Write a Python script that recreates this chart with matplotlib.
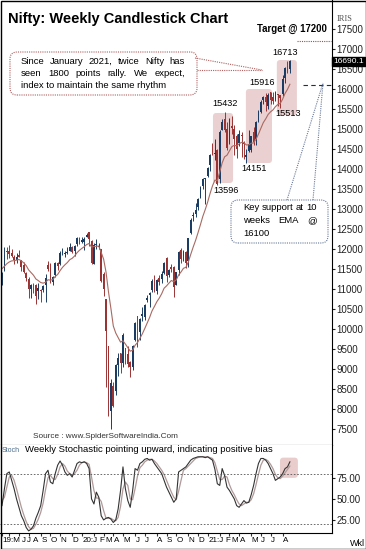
import numpy as np
import pandas as pd
import matplotlib
matplotlib.use("Agg")
import matplotlib.pyplot as plt
from matplotlib.patches import FancyBboxPatch
from matplotlib.lines import Line2D
from matplotlib.font_manager import FontProperties

# weekly Nifty candles, week ending 17 May 2019 .. 27 Aug 2021
weeks = pd.date_range("2019-05-17", periods=120, freq="W-FRI")

opens = [11280, 11470, 11925, 11953, 11905, 11810, 11725, 11839, 11713, 11588,
         11392, 11247, 11000, 11090, 11095, 10957, 10960, 10964, 11110, 11591,
         11517, 11170, 11338, 11657, 11628, 11900, 11870, 11900, 11950, 12049,
         11939, 12132, 12278, 12168, 12171, 12297, 12430, 12197, 11628, 12102,
         12046, 12012, 11387, 10742, 9587, 7945, 8585, 8446, 9103, 9390,
         9152, 9533, 9383, 9183, 9040, 9726, 10326, 9919, 10318, 10311,
         10723, 10851, 10983, 11225, 10953, 11270, 11248, 11412, 11777, 11355,
         11539, 11555, 11103, 11487, 11973, 11834, 11937, 11697, 12399, 12834,
         12880, 13062, 13264, 13587, 13741, 13815, 14104, 14474, 14371, 14486,
         13759, 14987, 15256, 15010, 14703, 15064, 14996, 14818, 14638, 14837,
         14644, 14306, 14449, 14482, 14928, 14756, 15211, 15437, 15725, 15791,
         15587, 15915, 15793, 15755, 15877, 15839, 15874, 16281, 16565, 16497]
highs = [11430, 12041, 12039, 12103, 12000, 11842, 11911, 11981, 11713, 11670,
         11420, 11305, 11130, 11145, 11116, 11142, 10995, 11106, 11382, 11695,
         11648, 11330, 11670, 11665, 11945, 12034, 11950, 12038, 12159, 12081,
         12098, 12294, 12288, 12311, 12311, 12389, 12430, 12217, 12160, 12246,
         12159, 12012, 11433, 10751, 9587, 8749, 8678, 9128, 9390, 9390,
         9890, 9533, 9584, 9200, 9598, 10177, 10328, 10272, 10553, 10632,
         10847, 10934, 11239, 11341, 11256, 11362, 11460, 11686, 11794, 11493,
         11618, 11585, 11428, 11939, 12025, 11975, 11951, 12280, 12770, 12935,
         13145, 13281, 13579, 13773, 13777, 14050, 14367, 14653, 14753, 14491,
         14969, 15257, 15432, 15176, 15274, 15336, 15093, 14878, 14984, 14918,
         14697, 14491, 14984, 14824, 15044, 15189, 15469, 15733, 15835, 15901,
         15903, 15916, 15915, 15952, 15880, 15862, 16349, 16543, 16701, 16713]
lows = [11108, 11450, 11750, 11769, 11794, 11625, 11651, 11799, 11461, 11400,
        11210, 10782, 10782, 10901, 10637, 10756, 10670, 10921, 10670, 11460,
        11158, 11090, 11300, 11480, 11600, 11850, 11802, 11865, 11950, 11888,
        11832, 12075, 12120, 12150, 11975, 12290, 12087, 11633, 11614, 11990,
        12003, 11175, 10827, 8555, 7832, 7511, 8055, 8360, 8820, 8909,
        9044, 9117, 9043, 8807, 8968, 9706, 9544, 9729, 10194, 10224,
        10676, 10562, 10936, 10926, 10882, 11111, 11144, 11365, 11185, 11294,
        11435, 10790, 11093, 11347, 11661, 11711, 11535, 11558, 12366, 12691,
        12790, 12963, 13264, 13491, 13131, 13812, 13954, 14357, 14222, 13596,
        13662, 14977, 14936, 14468, 14635, 14864, 14350, 14265, 14568, 14311,
        14248, 14151, 14416, 14417, 14592, 14592, 15170, 15400, 15634, 15450,
        15505, 15635, 15632, 15708, 15578, 15513, 15834, 16162, 16396, 16396]
closes = [11407, 11844, 11923, 11871, 11823, 11724, 11789, 11811, 11552, 11419,
          11284, 10997, 11110, 11048, 10829, 11023, 10946, 11076, 11274, 11512,
          11175, 11305, 11662, 11583, 11890, 11908, 11895, 11914, 12056, 11922,
          12087, 12272, 12246, 12227, 12257, 12352, 12248, 11662, 12098, 12113,
          12080, 11202, 10989, 9955, 8745, 8660, 8084, 9112, 9267, 9154,
          9860, 9252, 9137, 9039, 9580, 10142, 9972, 10244, 10383, 10607,
          10768, 10902, 11194, 11073, 11214, 11178, 11372, 11647, 11333, 11464,
          11505, 11050, 11417, 11914, 11762, 11930, 11642, 12264, 12720, 12860,
          12969, 13258, 13514, 13761, 13749, 14018, 14347, 14434, 14372, 13635,
          14924, 15163, 14982, 14529, 14938, 15031, 14744, 14507, 14867, 14835,
          14617, 14341, 14631, 14823, 14678, 15175, 15436, 15670, 15799, 15683,
          15860, 15722, 15690, 15924, 15856, 15763, 16238, 16529, 16451, 16690.1]
ema10 = [11508, 11569, 11633, 11676, 11703, 11707, 11722, 11738, 11704, 11652,
         11585, 11478, 11411, 11345, 11251, 11210, 11162, 11146, 11169, 11231,
         11221, 11236, 11314, 11363, 11459, 11541, 11605, 11661, 11733, 11767,
         11825, 11906, 11968, 12015, 12059, 12112, 12137, 12051, 12060, 12070,
         12072, 11914, 11746, 11420, 10933, 10519, 10076, 9901, 9786, 9671,
         9705, 9623, 9535, 9445, 9470, 9592, 9661, 9767, 9879, 10011,
         10149, 10286, 10451, 10564, 10682, 10772, 10881, 11020, 11077, 11147,
         11212, 11183, 11226, 11351, 11426, 11518, 11541, 11673, 11864, 12045,
         12213, 12403, 12605, 12815, 12985, 13173, 13387, 13578, 13723, 13707,
         13928, 14153, 14304, 14345, 14453, 14558, 14592, 14577, 14630, 14667,
         14658, 14600, 14606, 14645, 14651, 14746, 14872, 15017, 15159, 15254,
         15364, 15429, 15477, 15558, 15612, 15639, 15748, 15890, 15992, 16119]

stoch_k = [42, 62, 80, 82, 72, 62, 50, 40, 30, 24, 16, 12, 14, 18, 27, 34, 42, 60, 80, 84,
           70, 68, 80, 90, 95, 90, 82, 78, 80, 76, 84, 92, 94, 93, 94, 92, 86, 50, 44, 58,
           52, 30, 25, 27, 28, 26, 22, 25, 38, 60, 88, 62, 48, 40, 60, 86, 84, 92, 94, 97,
           98, 96, 97, 92, 88, 84, 80, 72, 64, 58, 52, 46, 50, 82, 84, 86, 88, 92, 96, 98,
           99, 100, 100, 100, 99, 100, 98, 96, 85, 68, 66, 86, 78, 64, 60, 55, 50, 42, 40, 44,
           48, 45, 46, 55, 66, 80, 92, 98, 98, 96, 92, 86, 80, 72, 74, 76, 80, 86, 88, 94]
stoch_d = [48, 52, 64, 76, 78, 72, 62, 51, 40, 31, 23, 17, 14, 15, 20, 26, 34, 45, 61, 75,
           78, 74, 73, 79, 88, 92, 89, 83, 80, 78, 80, 84, 90, 93, 94, 93, 91, 76, 60, 51,
           51, 47, 36, 27, 27, 27, 25, 24, 28, 41, 62, 70, 66, 50, 49, 62, 77, 87, 90, 94,
           96, 97, 97, 95, 92, 88, 84, 79, 72, 65, 58, 52, 49, 59, 72, 84, 86, 89, 92, 95,
           98, 99, 100, 100, 100, 100, 99, 98, 93, 83, 73, 73, 77, 76, 67, 60, 55, 49, 44, 42,
           44, 46, 46, 49, 56, 67, 79, 90, 96, 97, 95, 91, 86, 79, 75, 74, 77, 81, 85, 89]

marked_highs = [16713, 15916, 15432]
marked_lows = [15513, 14151, 13596]
target = 17200
support = 16100
month_letters = ["J", "F", "M", "A", "M", "J", "J", "A", "S", "O", "N", "D"]

SANS = "Liberation Sans"
UP = "#1c3d63"
DOWN = "#9c3333"

W, H = 366, 549
fig = plt.figure(figsize=(W / 100, H / 100), dpi=100)
PX = fig.dpi_scale_trans
renderer = fig.canvas.get_renderer()


def px(x, y):
    return x / 100, (H - y) / 100


def text_w(s, size, weight="normal"):
    fp = FontProperties(family=SANS, size=size, weight=weight)
    return renderer.get_text_width_height_descent(s, fp, ismath=False)[0]


ax = fig.add_axes([0, (H - 445) / H, 332 / W, 445 / H])
ax2 = fig.add_axes([0, (H - 533) / H, 332 / W, 88 / H], sharex=ax)

idx = np.arange(len(closes))
o = np.array(opens, float)
c = np.array(closes, float)
up = c >= o
cols = np.where(up, UP, DOWN)

ax.vlines(idx, lows, highs, colors=cols, lw=0.7)
body_lo = np.minimum(o, c)
body_h = np.maximum(np.abs(c - o), 25)
ax.bar(idx, body_h, bottom=body_lo, width=0.72, color=cols, linewidth=0)
ax.plot(idx, ema10, color="#a86a62", lw=0.8)

ax.set_xlim(-0.83, 136.4)
ax.set_ylim(7100, 18225)

# pixel -> data aspect for rounded boxes
x_per_px = (136.4 + 0.83) / 332
y_per_px = (18225 - 7100) / 445
asp = y_per_px / x_per_px

for x0, x1, y0, y1 in [(87.2, 95.5, 13650, 15400), (100.8, 111.6, 14150, 16000), (113.6, 121.9, 15350, 16725)]:
    ax.add_patch(FancyBboxPatch((x0, y0), x1 - x0, y1 - y0,
                                boxstyle="round,pad=0,rounding_size=1.4", mutation_aspect=asp,
                                fc="#d7a3a3", ec="none", alpha=0.5, zorder=0))

# labels for swing highs / lows
offsets = {16713: (-5, 8), 15916: (-8, 10), 15432: (0, 8), 15513: (8, -5), 14151: (8, -6), 13596: (9, -5)}
for v in marked_highs:
    i = highs.index(v)
    ax.annotate(str(v), (i, v), xytext=offsets[v], textcoords="offset pixels",
                ha="center", va="center", fontsize=6.6, family=SANS)
for v in marked_lows:
    i = lows.index(v)
    ax.annotate(str(v), (i, v), xytext=offsets[v], textcoords="offset pixels",
                ha="center", va="center", fontsize=6.6, family=SANS)

ax.plot([122, 135.8], [target, target], color="#b04848", lw=0.8, ls=(0, (1, 1)))
ax.plot([124.4, 136.4], [support, support], color="#1a3050", lw=0.8, ls=(0, (4, 3)))

# right axis
ax.yaxis.tick_right()
ax.set_yticks(np.arange(7500, 17501, 500))
ax.tick_params(axis="y", labelsize=7, length=2, pad=1, colors="#222222")
for t in ax.get_yticklabels():
    t.set_family(SANS)
ax.tick_params(axis="x", bottom=False, labelbottom=False)
for s in ["left", "top"]:
    ax.spines[s].set_visible(False)
ax.spines["right"].set_linewidth(0.8)
ax.spines["bottom"].set_linewidth(0.8)

ax.text(1.004, closes[-1], f"{closes[-1]:.1f}", transform=ax.get_yaxis_transform(),
        ha="left", va="center", color="white", fontsize=6.1, family=SANS, zorder=5,
        bbox=dict(boxstyle="square,pad=0.1", fc="black", ec="black"))

# stochastic panel
ax2.plot(idx, stoch_d, color="#b09a9a", lw=0.9)
ax2.plot(idx, stoch_k, color="#333333", lw=0.8)
ax2.axhline(80, color="#555555", lw=0.6, ls=(0, (2, 2)))
ax2.axhline(20, color="#555555", lw=0.6, ls=(0, (2, 2)))
ax2.add_patch(FancyBboxPatch((114.9, 75), 7.4, 24, boxstyle="round,pad=0,rounding_size=1.4",
                             mutation_aspect=((114 - 9.5) / 88) / x_per_px,
                             fc="#d7a3a3", ec="none", alpha=0.55, zorder=0))
ax2.set_ylim(9.5, 114)
ax2.yaxis.tick_right()
ax2.set_yticks([25, 50, 75])
ax2.set_yticklabels(["25.00", "50.00", "75.00"])
ax2.tick_params(axis="y", labelsize=7, length=2, pad=1, colors="#222222")
for t in ax2.get_yticklabels():
    t.set_family(SANS)
for s in ["left", "top"]:
    ax2.spines[s].set_visible(False)
ax2.spines["right"].set_linewidth(0.8)
ax2.spines["bottom"].set_linewidth(0.8)

# month labels: ticks at month starts, labels pushed right when they collide
tick_pos, tick_lab = [], []
prev = None
for i, d in enumerate(weeks):
    if d.month != prev:
        lab = month_letters[d.month - 1]
        if i == 0 or d.month == 1:
            lab = f"{d.year % 100}:{lab}"
        tick_pos.append(i)
        tick_lab.append(lab)
        prev = d.month
ax2.set_xticks(tick_pos)
ax2.tick_params(axis="x", length=2, labelbottom=False, color="#333333")
x_end = -10
for i, lab in zip(tick_pos, tick_lab):
    xd = ax2.transData.transform((i, 0))[0]
    xs = max(xd + 0.5, x_end + 1.5)
    fig.text(*px(xs, 540), lab, transform=PX, ha="left", va="center", fontsize=5.8, family=SANS)
    x_end = xs + text_w(lab, 5.8)

# texts
fig.text(*px(8, 19), "Nifty: Weekly Candlestick Chart", transform=PX, ha="left", va="center",
         fontsize=10.5, fontweight="bold", family=SANS)
fig.text(*px(337, 19), "IRIS", transform=PX, ha="left", va="center", fontsize=6,
         family="Liberation Serif", color="#555555")
fig.text(*px(327, 29), f"Target @ {target}", transform=PX, ha="right", va="center",
         fontsize=6.9, fontweight="bold", family=SANS)
fig.text(*px(33, 437), "Source : www.SpiderSoftwareIndia.Com", transform=PX, ha="left", va="center",
         fontsize=5.9, family=SANS, color="#333333")
fig.text(*px(2, 451), "Stoch", transform=PX, ha="left", va="center", fontsize=5,
         family=SANS, color="#4a6a8a")
fig.text(*px(25, 450), "Weekly Stochastic pointing upward, indicating positive bias", transform=PX,
         ha="left", va="center", fontsize=6.8, family=SANS)
fig.text(*px(350, 543), "Wkl", transform=PX, ha="left", va="center", fontsize=6.5, family=SANS)


def justified(lines, x0, x1, y0, dy, size):
    for k, line in enumerate(lines):
        words = line.split()
        yy = y0 + k * dy
        widths = [text_w(wd, size) for wd in words]
        gap = (x1 - x0 - sum(widths)) / max(len(words) - 1, 1)
        if k == len(lines) - 1 or gap < 0:
            fig.text(*px(x0, yy), line, transform=PX, ha="left", va="center",
                     fontsize=size, family=SANS)
            continue
        x = x0
        for wd, wdt in zip(words, widths):
            fig.text(*px(x, yy), wd, transform=PX, ha="left", va="center",
                     fontsize=size, family=SANS)
            x += wdt + gap


# callout 1
fig.patches.append(FancyBboxPatch(px(10, 95), 187 / 100, 43 / 100, boxstyle="round,pad=0,rounding_size=0.07",
                                  transform=PX, fc="white", ec="#b06060", lw=0.8, ls=(0, (1, 1)), figure=fig))
for a, b in [((195, 58), (262, 70)), ((197, 70), (262, 70))]:
    fig.lines.append(Line2D([a[0] / 100, b[0] / 100], [(H - a[1]) / 100, (H - b[1]) / 100],
                            transform=PX, color="#b06060", lw=0.8, ls=(0, (1, 1)), figure=fig))
justified(["Since January 2021, twice Nifty has",
           "seen 1800 points rally. We expect,",
           "index to maintain the same rhythm"], 21, 185, 61, 12, 6.8)

# callout 2
fig.patches.append(FancyBboxPatch(px(231, 243), 97 / 100, 43 / 100, boxstyle="round,pad=0,rounding_size=0.07",
                                  transform=PX, fc="white", ec="#6a7a9a", lw=0.8, ls=(0, (1, 1)), figure=fig))
for a, b in [((287, 200), (323, 83)), ((313, 200), (323, 83))]:
    fig.lines.append(Line2D([a[0] / 100, b[0] / 100], [(H - a[1]) / 100, (H - b[1]) / 100],
                            transform=PX, color="#6a7a9a", lw=0.8, ls=(0, (1, 1)), figure=fig))
justified(["Key support at 10", "weeks EMA @", f"{support}"], 243, 317, 208, 12.5, 6.8)

# outer frame
fig.patches.append(FancyBboxPatch((0.5 / W, 0.5 / H), 1 - 1 / W, 1 - 1 / H, boxstyle="square,pad=0",
                                  transform=fig.transFigure, fc="none", ec="black", lw=1, figure=fig))

fig.savefig("out.png", dpi=100)
